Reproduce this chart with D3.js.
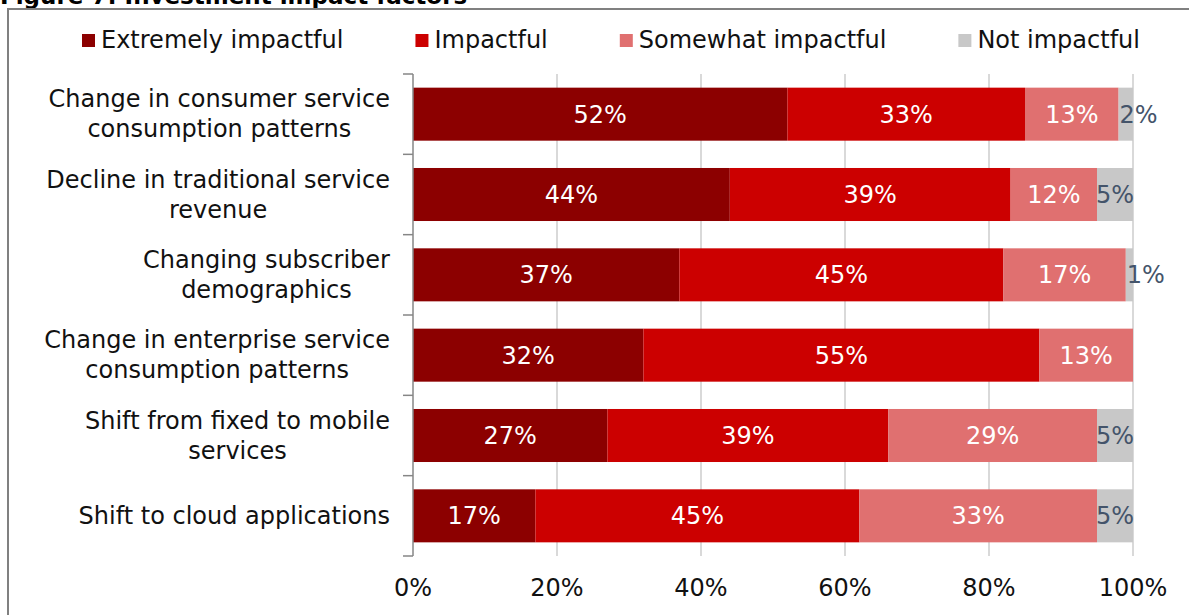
<!DOCTYPE html>
<html>
<head>
<meta charset="utf-8">
<script src="https://cdn.jsdelivr.net/npm/d3@7"></script>
<style>
  html, body { margin: 0; padding: 0; background: #fff; }
  svg { display: block; font-family: "DejaVu Sans", Verdana, sans-serif; }
</style>
</head>
<body>
<svg id="chart" width="1189" height="615"></svg>
<script>
// ---- Data ----
const title = "Figure 7: Investment impact factors";
const categories = [
  ["Change in consumer service", "consumption patterns"],
  ["Decline in traditional service", "revenue"],
  ["Changing subscriber", "demographics"],
  ["Change in enterprise service", "consumption patterns"],
  ["Shift from fixed to mobile", "services"],
  ["Shift to cloud applications"]
];
const seriesNames = ["Extremely impactful", "Impactful", "Somewhat impactful", "Not impactful"];
const extremely = [52, 44, 37, 32, 27, 17];
const impactful = [33, 39, 45, 55, 39, 45];
const somewhat  = [13, 12, 17, 13, 29, 33];
const notImpact = [2, 5, 1, 0, 5, 5];
const xTicks = [0, 20, 40, 60, 80, 100];

// ---- Styles ----
const colors = ["#8c0000", "#cc0000", "#e07070", "#c8c8c8"];
const labelColors = ["#ffffff", "#ffffff", "#ffffff", "#44546a"];
const fontSize = 24;

const svg = d3.select("#chart");
svg.append("rect").attr("width", 1189).attr("height", 615).attr("fill", "#fff");

// Title (cut off at top in the reference)
svg.append("text").attr("x", 0).attr("y", 4)
  .attr("font-weight", "bold").attr("font-size", 23).attr("fill", "#000")
  .text(title);

// Frame
svg.append("rect").attr("x", 8).attr("y", 9).attr("width", 1200).attr("height", 640)
  .attr("fill", "none").attr("stroke", "#808080").attr("stroke-width", 2);

const rows = categories.map((c, i) => ({
  key: i,
  values: [extremely[i], impactful[i], somewhat[i], notImpact[i]]
}));

const x = d3.scaleLinear().domain([0, 100]).range([413, 1133]);
const y = d3.scaleBand().domain(d3.range(categories.length)).range([74, 556])
  .paddingInner(0.34).paddingOuter(0.17);

// Gridlines
svg.append("g").selectAll("line").data(xTicks.filter(t => t > 0)).join("line")
  .attr("x1", d => x(d)).attr("x2", d => x(d))
  .attr("y1", 74).attr("y2", 556)
  .attr("stroke", "#d9d9d9").attr("stroke-width", 2);

// Stacked bars
const stackData = rows.map(r => {
  let acc = 0;
  return r.values.map((v, j) => { const s = {row: r.key, j, v, x0: acc, x1: acc + v}; acc += v; return s; });
});
const segs = stackData.flat().filter(d => d.v > 0);

svg.append("g").selectAll("rect").data(segs).join("rect")
  .attr("x", d => x(d.x0)).attr("width", d => x(d.x1) - x(d.x0))
  .attr("y", d => y(d.row)).attr("height", y.bandwidth())
  .attr("fill", d => colors[d.j]);

// Data labels
svg.append("g").selectAll("text").data(segs).join("text")
  .attr("x", d => d.v < 3 ? x(d.x0) + 1 : (x(d.x0) + x(d.x1)) / 2)
  .attr("text-anchor", d => d.v < 3 ? "start" : "middle")
  .attr("y", d => y(d.row) + y.bandwidth() / 2)
  .attr("dy", "0.35em")
  .attr("font-size", fontSize)
  .attr("fill", d => labelColors[d.j])
  .text(d => d.v + "%");

// Y axis
const yAxis = svg.append("g").attr("transform", "translate(413,0)");
yAxis.append("line").attr("x1", 0).attr("x2", 0).attr("y1", 74).attr("y2", 556)
  .attr("stroke", "#868686").attr("stroke-width", 1.5);
const bounds = d3.range(categories.length + 1).map(i => 74 + i * y.step());
yAxis.selectAll("line.tick").data(bounds).join("line").attr("class", "tick")
  .attr("x1", -10).attr("x2", 0).attr("y1", d => d).attr("y2", d => d)
  .attr("stroke", "#868686").attr("stroke-width", 1.5);

// Category labels
const catG = svg.append("g");
categories.forEach((lines, i) => {
  const cy = y(i) + y.bandwidth() / 2;
  const t = catG.append("text").attr("font-size", fontSize).attr("fill", "#111")
    .attr("text-anchor", "middle");
  lines.forEach((ln, k) => {
    t.append("tspan").attr("x", 0)
      .attr("y", cy + (k - (lines.length - 1) / 2) * 30 + 8)
      .text(ln);
  });
  const w = t.node().getBBox().width;
  t.attr("transform", `translate(${390 - w / 2},0)`);
});

// X axis tick labels
svg.append("g").selectAll("text").data(xTicks).join("text")
  .attr("x", d => x(d)).attr("y", 596)
  .attr("text-anchor", "middle").attr("font-size", 24).attr("fill", "#111")
  .text(d => d + "%");

// Legend
const leg = svg.append("g");
let lx = 82;
seriesNames.forEach((name, j) => {
  leg.append("rect").attr("x", lx).attr("y", 34).attr("width", 13).attr("height", 13)
    .attr("fill", colors[j]);
  const t = leg.append("text").attr("x", lx + 19).attr("y", 48)
    .attr("font-size", fontSize).attr("fill", "#111").text(name);
  lx += 19 + t.node().getComputedTextLength() + 72;
});
</script>
</body>
</html>
